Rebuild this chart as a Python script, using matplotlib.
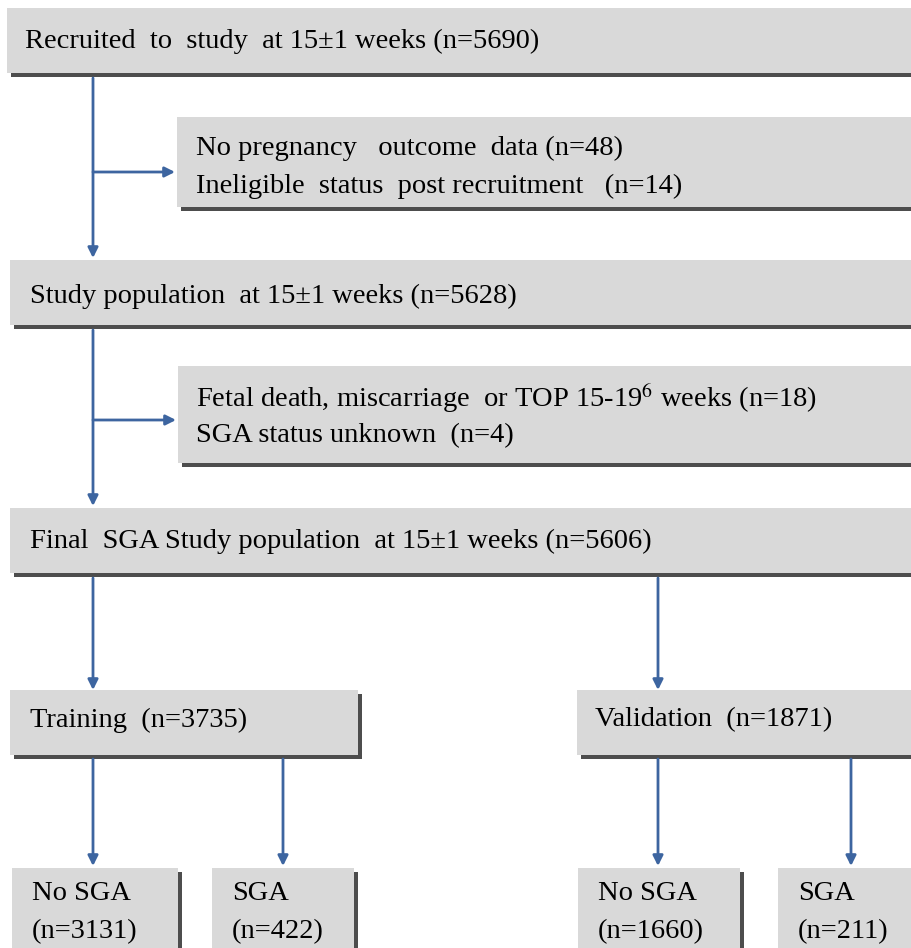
import matplotlib.pyplot as plt
from matplotlib.patches import Rectangle

plt.rcParams['font.family'] = ['Liberation Serif', 'DejaVu Serif']
plt.rcParams['mathtext.fontset'] = 'stix'

# flow chart counts
n_recruited = 5690
n_no_outcome = 48
n_ineligible = 14
n_study = 5628
n_fetal_death = 18
n_sga_unknown = 4
n_final = 5606
n_training = 3735
n_validation = 1871
train_counts = [3131, 422]
valid_counts = [1660, 211]
outcome_labels = ['No SGA', 'SGA']

W, H = 911, 948
fig = plt.figure(figsize=(W / 100, H / 100), dpi=100)
ax = fig.add_axes([0, 0, 1, 1])
ax.set_xlim(0, W)
ax.set_ylim(H, 0)
ax.axis('off')

box_fc = '#d9d9d9'
shadow = '#4d4d4d'
blue = '#3d65a0'
fs = 20.5


def box(x0, y0, x1, y1):
    # shadow on the bottom and right
    ax.add_patch(Rectangle((x0 + 4, y0 + 4), x1 - x0, y1 - y0, fc=shadow, ec='none', zorder=1))
    ax.add_patch(Rectangle((x0, y0), x1 - x0, y1 - y0, fc=box_fc, ec='none', zorder=2))


def label(x, y, s):
    ax.text(x, y + 3, s, fontsize=fs, va='center', zorder=4)


def arrow(x0, y0, x1, y1):
    ax.annotate('', xy=(x1, y1), xytext=(x0, y0),
                arrowprops=dict(arrowstyle='-|>', color=blue, lw=2, mutation_scale=15,
                                shrinkA=0, shrinkB=0), zorder=3)


# top boxes
box(7, 8, 925, 73)
label(25, 38, f'Recruited  to  study  at 15\u00b11 weeks (n={n_recruited})')

box(177, 117, 925, 207)
label(196, 145, f'No pregnancy   outcome  data (n={n_no_outcome})')
label(196, 183, f'Ineligible  status  post recruitment   (n={n_ineligible})')

arrow(93, 78, 93, 258)
arrow(93, 172, 175, 172)

box(10, 260, 925, 325)
label(30, 293, f'Study population  at 15\u00b11 weeks (n={n_study})')

box(178, 366, 925, 463)
label(196, 395, f'Fetal death, miscarriage  or TOP 15-19$^{{6}}$ weeks (n={n_fetal_death})')
label(196, 433, f'SGA status unknown  (n={n_sga_unknown})')

arrow(93, 330, 93, 506)
arrow(93, 420, 176, 420)

box(10, 508, 925, 573)
label(30, 538, f'Final  SGA Study population  at 15\u00b11 weeks (n={n_final})')

# split into training / validation
arrow(93, 578, 93, 690)
arrow(658, 578, 658, 690)

box(10, 690, 358, 755)
label(30, 717, f'Training  (n={n_training})')
box(577, 690, 925, 755)
label(595, 717, f'Validation  (n={n_validation})')

# outcome boxes
bottoms = [(93, 12, 178, train_counts[0], outcome_labels[0]),
           (283, 212, 354, train_counts[1], outcome_labels[1]),
           (658, 578, 740, valid_counts[0], outcome_labels[0]),
           (851, 778, 925, valid_counts[1], outcome_labels[1])]
for xa, x0, x1, n, lab in bottoms:
    arrow(xa, 759, xa, 866)
    box(x0, 868, x1, 960)
    label(x0 + 20, 890, lab)
    label(x0 + 20, 929, f'(n={n})')

fig.savefig('out.png', dpi=100)
